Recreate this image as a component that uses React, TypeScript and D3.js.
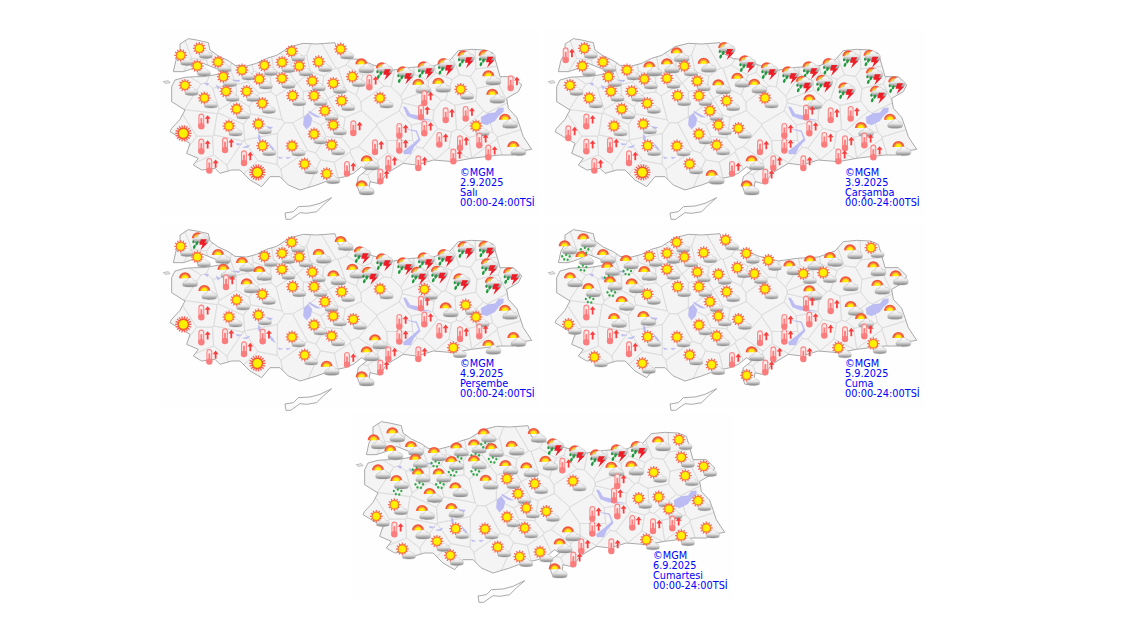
import React from "react";
import * as d3 from "d3";

// province anchors, in map grid units (grid is 1140 x 570 for one map image)
const provinces: number[][] = [
    [62, 76], [118, 55], [112, 108], [174, 96], [246, 120], [313, 106], [366, 97], [395, 64], [418, 108], [476, 95],
    [542, 57], [604, 97], [670, 118], [733, 130], [795, 115], [855, 105], [915, 82], [978, 80], [190, 140], [298, 147],
    [366, 145], [457, 153], [520, 160], [577, 140], [628, 158], [75, 166], [133, 204], [198, 184], [260, 184], [398, 197],
    [462, 197], [545, 212], [660, 204], [775, 158], [835, 155], [902, 178], [985, 133], [1052, 160], [997, 188], [307, 220],
    [230, 237], [495, 242], [793, 205], [783, 248], [857, 256], [917, 252], [1035, 263], [124, 275], [207, 288], [295, 282],
    [520, 285], [580, 295], [718, 303], [793, 296], [948, 288], [70, 310], [462, 312], [838, 330], [900, 340], [958, 332],
    [124, 350], [195, 346], [308, 347], [396, 348], [515, 345], [645, 352], [718, 348], [1060, 345], [252, 385], [620, 388],
    [685, 400], [775, 400], [880, 380], [985, 368], [148, 408], [292, 427], [434, 402], [500, 431], [561, 417], [661, 440],
    [605, 463],
];

// S sun+cloud, H half sun behind cloud, T hot, B burning sun, L storm, R showers
const day1 = "SSSSSSSSSSSHLLLLLLSSSSSSTSSSSSSSSHHSHTHSSSTTTTHTSSSTTTSBSTTTTTSSSTTHTHTTTTTBSSTTH";
const day2 = "TSSSSHHHSHLLLLLLLLSSSSHHHSSSSSSSSLLLLLLSSSHTTTHTSSSSTTHTSTTTTTSSSTTHTHTTTTTBSHTTH";
const day3 = "SLSHHSSSSHHLLLLLLLHHSSHHLHHTHSSSSLLLLLLSSSSTHSHTSSSSTTSBSTTTTTTSSHTHTHTTSHTBSHTTH";
const day4 = "RRRHRSSSSSSSSHHHHSRHSSSSSHRRHSSSSSSHHHHSHSHTTHHTHHSSTTHSSTTTTTSSSTTHTHTTSSSSSSTTS";
const day5 = "HHHHRRRRRHHLLLLLHSRRRHHHTHRRRHSSSHHSSSSHHSTTSSSSHHSSTTSSSTTTTHSSSHTSSHTTSSSSSSSTH";

const dayTypes = [day1, day2, day3, day4, day5];
const dates = ["2.9.2025", "3.9.2025", "4.9.2025", "5.9.2025", "6.9.2025"];
const weekdays = ["Salı", "Çarşamba", "Perşembe", "Cuma", "Cumartesi"];
const origins = [[160, 30], [545, 30], [160, 221], [545, 221], [353, 413]];

const outline: number[][] = [
    [60, 42], [85, 26], [110, 30], [145, 38], [150, 60], [175, 78], [205, 92], [225, 106], [260, 108], [290, 100], [320, 85],
    [350, 76], [375, 60], [390, 50], [430, 40], [470, 42], [525, 38], [535, 70], [565, 86], [600, 88], [640, 105], [700, 120],
    [755, 112], [820, 108], [870, 90], [895, 62], [935, 58], [975, 60], [1000, 70], [1012, 110], [1020, 140], [1060, 140],
    [1085, 165], [1075, 185], [1040, 205], [1045, 235], [1070, 262], [1080, 290], [1090, 320], [1115, 358], [1090, 362],
    [1060, 375], [1020, 375], [975, 380], [935, 385], [880, 395], [820, 390], [770, 405], [730, 400], [680, 430], [660, 462],
    [630, 455], [625, 490], [600, 490], [590, 465], [595, 440], [620, 420], [605, 410], [580, 430], [555, 440], [510, 450],
    [470, 465], [420, 480], [385, 465], [360, 440], [330, 440], [305, 470], [270, 450], [240, 420], [215, 420], [180, 430],
    [165, 415], [125, 420], [100, 405], [115, 385], [80, 370], [90, 340], [55, 320], [30, 305], [35, 295], [60, 268], [75, 240],
    [35, 215], [35, 170], [45, 150], [75, 142], [105, 140], [130, 140], [180, 132], [205, 128], [175, 118], [150, 108], [130, 100],
    [100, 115], [70, 125], [40, 125], [48, 90], [60, 70],
];
const cyprus: number[][] = [
    [375, 549], [400, 545], [415, 530], [450, 528], [480, 520], [515, 503], [490, 525], [470, 545], [440, 550], [420, 548], [392, 568], [378, 568],
];
const gokceada: number[][] = [[10, 155], [25, 152], [30, 158], [15, 160]];
const lakes: number[][][] = [
    [[963, 262], [985, 250], [1005, 248], [1015, 235], [1030, 233], [1030, 245], [1015, 258], [1005, 272], [980, 285], [965, 280]],
    [[432, 262], [445, 250], [456, 265], [452, 285], [440, 298], [430, 285]],
    [[446, 243], [470, 256], [482, 262], [468, 261], [448, 249]],
    [[730, 230], [738, 232], [750, 252], [770, 256], [790, 266], [812, 270], [790, 271], [765, 267], [742, 258]],
    [[742, 298], [770, 302], [781, 330], [762, 350], [752, 372], [732, 372], [730, 364], [758, 342], [776, 326], [768, 305]],
    [[295, 312], [301, 318], [302, 335], [295, 328]],
    [[325, 338], [338, 352], [346, 365], [334, 358]],
    [[312, 288], [338, 292], [326, 302]],
    [[228, 340], [245, 342], [232, 346]],
    [[248, 352], [270, 345], [262, 353]],
    [[355, 380], [368, 384], [358, 386]],
    [[378, 382], [392, 382], [382, 387]],
    [[218, 150], [240, 150], [236, 156]],
    [[133, 160], [146, 160], [142, 167]],
    [[168, 165], [180, 172], [174, 178]],
];

const FONT = "'DejaVu Sans', Verdana, sans-serif";

const x = d3.scaleLinear().domain([0, 1140]).range([0, 380]);
const y = d3.scaleLinear().domain([0, 570]).range([0, 190]);
const ring = d3.line<number[]>().x((d) => x(d[0])).y((d) => y(d[1])).curve(d3.curveLinearClosed);

const points = provinces.map((p) => [x(p[0]), y(p[1]) + 2] as [number, number]);
const voronoi = d3.Delaunay.from(points).voronoi([0, 0, 380, 190]);

const Rays: React.FC<{ n: number; r0: number; r1: number; w?: number }> = ({ n, r0, r1, w = 1.2 }) => (
    <g stroke="#f7645c" strokeWidth={w}>
        {d3.range(n).map((i) => {
            const a = (i / n) * 2 * Math.PI;
            return <line key={i} x1={r0 * Math.cos(a)} y1={r0 * Math.sin(a)} x2={r1 * Math.cos(a)} y2={r1 * Math.sin(a)} />;
        })}
    </g>
);

const Sun: React.FC = () => (
    <g>
        <Rays n={12} r0={3.5} r1={6.4} />
        <circle r={4.9} fill="#f97a3c" />
        <circle r={3.6} fill="#fff000" />
    </g>
);

const Cloud: React.FC<{ s?: number }> = ({ s = 1 }) => (
    <g transform={`scale(${s})`}>
        <path
            d="M-6,3.4 C-7.8,1.2 -5,-1.8 -2.8,-1.2 C-2,-4.8 2.4,-5 3.2,-1.8 C6,-2.6 7.8,1.2 6,3.4 C3,4.4 -3,4.4 -6,3.4 Z"
            fill="url(#cloudFill)"
            stroke="#b0b0b0"
            strokeWidth={0.4}
        />
    </g>
);

const halfArc = d3.arc();
const HalfSun: React.FC = () => (
    <g>
        <path d={halfArc({ innerRadius: 3.6, outerRadius: 6, startAngle: -Math.PI / 2, endAngle: Math.PI / 2 }) || ""} fill="#f2553a" />
        <path d={halfArc({ innerRadius: 2.4, outerRadius: 4.4, startAngle: -Math.PI / 2, endAngle: Math.PI / 2 }) || ""} fill="#fb9a3c" />
        <path d={halfArc({ innerRadius: 0, outerRadius: 3, startAngle: -Math.PI / 2, endAngle: Math.PI / 2 }) || ""} fill="#fff000" />
    </g>
);

const Drops: React.FC = () => (
    <g fill="#35a84a">
        {[[-4, 0], [0, -1.5], [3.5, 0], [-2, 3], [1.5, 3.5]].map((d, i) => (
            <ellipse key={i} cx={d[0]} cy={d[1]} rx={1.1} ry={1.3} />
        ))}
    </g>
);

const Icon: React.FC<{ type: string }> = ({ type }) => {
    if (type === "S") {
        return (
            <g>
                <Sun />
                <g transform="translate(6.5,6)"><Cloud s={0.98} /></g>
            </g>
        );
    }
    if (type === "H") {
        return (
            <g>
                <g transform="translate(0,2)"><HalfSun /></g>
                <g transform="translate(5,6)"><Cloud s={1.12} /></g>
            </g>
        );
    }
    if (type === "R") {
        return (
            <g>
                <g transform="translate(-1,0)"><HalfSun /></g>
                <g transform="translate(4,3.5)"><Cloud s={1.08} /></g>
                <g transform="translate(0.5,10)"><Drops /></g>
            </g>
        );
    }
    if (type === "L") {
        return (
            <g>
                <g transform="translate(-1.5,-1)"><HalfSun /></g>
                <g transform="translate(1.5,-1)"><Cloud s={1.18} /></g>
                <g transform="translate(-4,5)" fill="#1f9a3c">
                    <ellipse cx={-1} cy={2.5} rx={1.3} ry={2.1} transform="rotate(20 -1 2.5)" />
                    <ellipse cx={1.5} cy={-1} rx={1.3} ry={2.1} transform="rotate(20 1.5 -1)" />
                    <ellipse cx={-2} cy={-2.5} rx={1} ry={1.5} />
                </g>
                <path d="M1.5,0 L7.5,0 L5,3.5 L8.5,3.5 L1,11 L3.2,5.5 L0,5.5 Z" fill="#ee1c25" />
            </g>
        );
    }
    if (type === "B") {
        return (
            <g>
                <Rays n={18} r0={4.5} r1={8.2} w={1.4} />
                <circle r={5.8} fill="#f25a30" />
                <circle r={4.4} fill="#fff000" />
            </g>
        );
    }
    // hot: thermometer and up arrow
    return (
        <g>
            <rect x={-2.4} y={-7.5} width={4.8} height={13} rx={2.4} fill="#ffe6e6" stroke="#fb8585" strokeWidth={1.1} />
            <rect x={-0.9} y={-3.5} width={1.8} height={8} fill="#fb7c7c" />
            <circle cy={4.6} r={3.2} fill="#fb7c7c" />
            <path d="M6.3,-6.5 L9.2,-2.8 L7.2,-2.8 L7.2,1.8 L5.4,1.8 L5.4,-2.8 L3.4,-2.8 Z" fill="#fb3c3c" />
        </g>
    );
};

const TurkeyMap: React.FC<{ index: number }> = ({ index }) => {
    const types = dayTypes[index];
    const [ox, oy] = origins[index];
    return (
        <g transform={`translate(${ox},${oy})`}>
            <rect width={380} height={187} fill="#fefefe" />
            <path d={ring(outline) || ""} fill="#f4f4f4" />
            <g clipPath="url(#turkey)">
                {provinces.map((p, i) => (
                    <path key={i} d={voronoi.renderCell(i)} fill="none" stroke="#dadada" strokeWidth={0.7} />
                ))}
            </g>
            <path d={ring(outline) || ""} fill="none" stroke="#a0a0a0" strokeWidth={0.9} />
            <path d={ring(gokceada) || ""} fill="#f4f4f4" stroke="#a0a0a0" strokeWidth={0.7} />
            <path d={ring(cyprus) || ""} fill="#fbfbfb" stroke="#a0a0a0" strokeWidth={0.9} />
            {lakes.map((l, i) => (
                <path key={i} d={ring(l) || ""} fill="#bcbcf4" stroke="#b0b0ee" strokeWidth={0.3} />
            ))}
            <g filter="url(#soft)">
                {provinces.map((p, i) => (
                    <g key={i} transform={`translate(${x(p[0])},${y(p[1])})`}>
                        <Icon type={types[i]} />
                    </g>
                ))}
            </g>
            <g fill="#0000ff" fontFamily={FONT} fontSize={9.75}>
                <text x={x(900)} y={y(437)}>©MGM</text>
                <text x={x(900)} y={y(467)}>{dates[index]}</text>
                <text x={x(900)} y={y(497)}>{weekdays[index]}</text>
                <text x={x(900)} y={y(527)}>00:00-24:00TSİ</text>
            </g>
        </g>
    );
};

export default function App() {
    return (
        <svg width={1131} height={623} style={{ position: "absolute", top: 0, left: 0, background: "#fff" }}>
            <defs>
                <clipPath id="turkey">
                    <path d={ring(outline) || ""} />
                </clipPath>
                <filter id="soft" x="-5%" y="-5%" width="110%" height="110%">
                    <feGaussianBlur stdDeviation={0.3} />
                </filter>
                <linearGradient id="cloudFill" x1="0" y1="0" x2="0" y2="1">
                    <stop offset="0%" stopColor="#ffffff" />
                    <stop offset="50%" stopColor="#e6e6e6" />
                    <stop offset="100%" stopColor="#808080" />
                </linearGradient>
            </defs>
            {origins.map((o, i) => (
                <TurkeyMap key={i} index={i} />
            ))}
        </svg>
    );
}
